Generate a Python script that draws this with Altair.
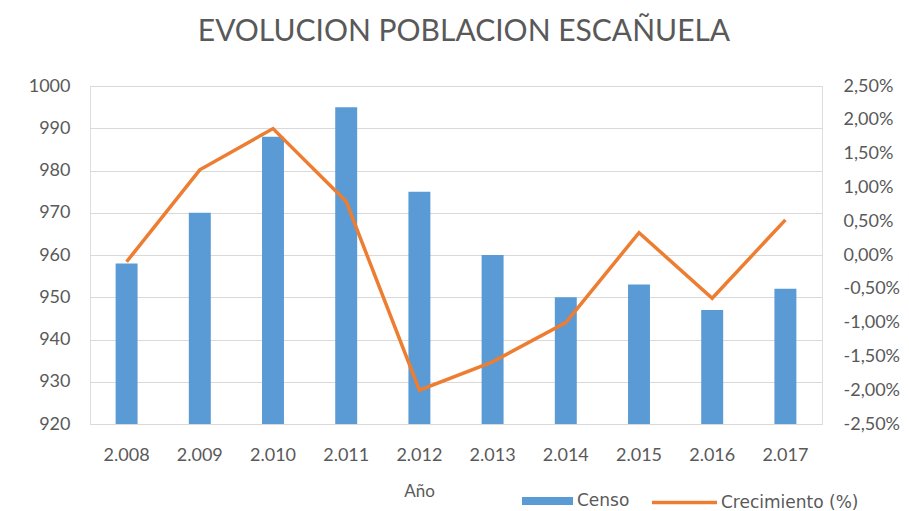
import altair as alt
import pandas as pd

years = ["2.008", "2.009", "2.010", "2.011", "2.012", "2.013", "2.014", "2.015", "2.016", "2.017"]
censo = [958, 970, 988, 995, 975, 960, 950, 953, 947, 952]
crecimiento = [-0.10, 1.26, 1.87, 0.79, -2.00, -1.58, -1.00, 0.33, -0.64, 0.52]
left_ticks = [920, 930, 940, 950, 960, 970, 980, 990, 1000]
right_ticks = [-2.5, -2.0, -1.5, -1.0, -0.5, 0.0, 0.5, 1.0, 1.5, 2.0, 2.5]

df = pd.DataFrame({
    "Año": years,
    "Censo": censo,
    "Crecimiento": crecimiento,
    "s_bar": ["Censo"] * len(years),
    "s_line": ["Crecimiento (%)"] * len(years),
})

FONT = "Lato"
LEG_FONT = "DejaVu Sans"
GREY = "#595959"
LBL = dict(labelFont=FONT, labelFontSize=18, labelColor=GREY)

x = alt.X(
    "Año:N",
    sort=years,
    scale=alt.Scale(paddingInner=0.7, paddingOuter=0.35),
    axis=alt.Axis(
        title="Año", labelAngle=0, ticks=False, domain=False, grid=False, labelPadding=22,
        titleX=329, titleY=67, titleBaseline="middle", titleAlign="center",
        titleFont=FONT, titleColor=GREY, titleFontSize=17, titleFontWeight="normal",
        **LBL,
    ),
)

bars = alt.Chart(df).mark_bar(clip=True).encode(
    x=x,
    y=alt.Y(
        "Censo:Q",
        scale=alt.Scale(domain=[920, 1000], zero=False, nice=False),
        axis=alt.Axis(
            title=None, values=left_ticks, format="d", ticks=False, domain=False,
            labelPadding=20, grid=True, gridColor="#D9D9D9", gridWidth=1, **LBL,
        ),
    ),
    color=alt.Color(
        "s_bar:N",
        scale=alt.Scale(domain=["Censo"], range=["#5B9BD5"]),
        legend=alt.Legend(
            title=None, orient="none", legendX=432, legendY=389.5,
            symbolType="M-1,-0.16H1V0.16H-1Z", symbolSize=2601,
            symbolStrokeWidth=0, labelFontSize=17, labelFont=LEG_FONT,
            labelColor=GREY, padding=0, labelOffset=4,
        ),
    ),
)

line = alt.Chart(df).mark_line(strokeWidth=3.5).encode(
    x=x,
    y=alt.Y(
        "Crecimiento:Q",
        scale=alt.Scale(domain=[-2.5, 2.5], zero=False, nice=False),
        axis=alt.Axis(
            title=None, orient="right", values=right_ticks, ticks=False, domain=False,
            labelPadding=21, grid=False,
            labelExpr="replace(replace(format(datum.value, '.2f'), '.', ','), '\u2212', '-') + '%'",
            **LBL,
        ),
    ),
    stroke=alt.Stroke(
        "s_line:N",
        scale=alt.Scale(domain=["Crecimiento (%)"], range=["#ED7D31"]),
        legend=alt.Legend(
            title=None, orient="none", legendX=560, legendY=382,
            symbolType="stroke", symbolSize=4225, symbolStrokeWidth=3.5,
            labelFontSize=17, labelFont=LEG_FONT, labelColor=GREY, padding=0, labelOffset=2,
        ),
    ),
)

chart = (
    alt.layer(bars, line)
    .resolve_scale(y="independent", color="independent", stroke="independent")
    .properties(
        width=732,
        height=338,
        title=alt.TitleParams(
            "EVOLUCION POBLACION ESCAÑUELA", font=FONT, fontSize=30,
            fontWeight="normal", color=GREY, anchor="middle", offset=30, dx=8,
        ),
        autosize=alt.AutoSizeParams(type="none"),
        padding={"left": 90, "top": 86, "right": 87, "bottom": 87},
    )
    .configure_view(stroke=None)
    .configure(background="white")
)

chart.save("out.html", embed_options={"renderer": "svg", "actions": False})
